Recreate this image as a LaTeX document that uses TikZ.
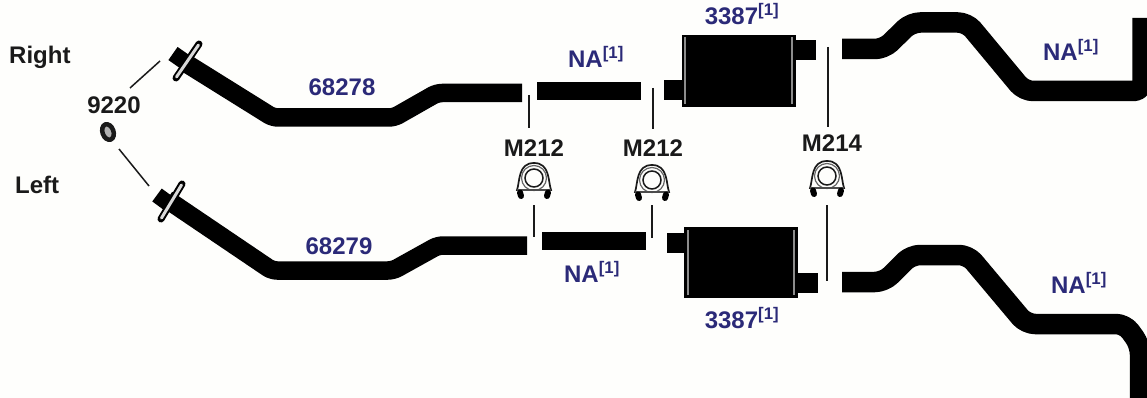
\documentclass[tikz,border=0pt]{standalone}
\usepackage{fontspec}
\setmainfont{Liberation Sans}
\definecolor{navy}{HTML}{2B2A78}
\definecolor{ink}{HTML}{1A1A1A}
\definecolor{paper}{HTML}{FEFEFC}
\newcommand{\refmark}{\textsuperscript{[1]}}
\tikzset{
  x=1pt,y=-1pt,
  pipe/.style={line width=18.5pt,black,line join=round,rounded corners=5pt},
  tailpipe/.style={line width=20.5pt,black,line join=round,rounded corners=9pt},
  shortpipe/.style={line width=18pt,black},
  leader/.style={line width=1.5pt,ink},
  part/.style={font=\fontsize{24}{24}\selectfont\bfseries,text=navy,inner sep=0pt},
  clampname/.style={font=\fontsize{24}{24}\selectfont\bfseries,text=ink,inner sep=0pt},
  side/.style={font=\fontsize{24}{24}\selectfont\bfseries,text=ink,inner sep=0pt},
  mufflerbody/.style={fill=black,draw=none},
  seam/.style={line width=1.1pt,black!45},
  flange/.style={line width=7pt,black,line cap=round},
  flangeface/.style={line width=3pt,black!15,line cap=round},
  stub/.style={line width=16pt,black},
  clamparch/.style={line width=1.7pt,ink,fill=paper},
  clampfoot/.style={line width=6pt,black,line cap=round},
  pics/uclamp/.style={code={
    \draw[clamparch] (-17,12) .. controls (-14,3) and (-16,-15) .. (0,-15) .. controls (16,-15) and (14,3) .. (17,12) -- cycle;
    \draw[line width=1.2pt,black!60] (0,0) circle[radius=12.5];
    \draw[line width=1.5pt,ink,fill=paper] (0,0) circle[radius=9];
    \draw[line width=2.6pt,black!70] (-17,12) -- (17,12);
    \draw[clampfoot] (-14,14.5) -- (-13,18);
    \draw[clampfoot] (14,14.5) -- (13,18);
  }}
}
\begin{document}
\begin{tikzpicture}
\useasboundingbox (0,0) rectangle (1147,398);
\fill[paper] (0,0) rectangle (1147,398);

% upper front pipe
\draw[pipe] (184,62) -- (273,117.5) -- (394,117.5) -- (437,93) -- (522,93);
\draw[stub] (173,53.5) -- (188,64);
\draw[flange] (199,44) -- (176,78);
\draw[flangeface] (198.5,45) -- (176.5,77);
% lower front pipe
\draw[pipe] (167,199.5) -- (272,270.5) -- (393,270.5) -- (438,245.5) -- (527,245.5);
\draw[stub] (157,195) -- (172,206);
\draw[flange] (182,184) -- (161,219);
\draw[flangeface] (181.5,185) -- (161.5,218);

% intermediate pipes
\draw[shortpipe] (537,91) -- (641,91);
\draw[shortpipe] (542,241) -- (646,241);

% upper muffler
\fill[mufflerbody] (664,80) rectangle (684,100);
\fill[mufflerbody] (794,40) rectangle (816,60);
\fill[mufflerbody] (682,35) rectangle (796,107);
\draw[seam] (685,37) -- (685,104);
\draw[seam] (792,37) -- (792,104);
% lower muffler
\fill[mufflerbody] (667,233) rectangle (686,253);
\fill[mufflerbody] (796,273) rectangle (818,293);
\fill[mufflerbody] (684,227) rectangle (798,298);
\draw[seam] (688,230) -- (688,295);
\draw[seam] (794,230) -- (794,295);

% tail pipes
\draw[tailpipe] (842,49) -- (884,49) -- (911,22.5) -- (967,22.5) -- (1024,91) -- (1142.5,91) -- (1142.5,18);
\draw[tailpipe] (842,282) -- (884,282) -- (911,255) -- (968,255) -- (1026,324) -- (1125,324) -- (1140,345) -- (1140,398);

% ring gasket
\draw[line width=4.5pt,ink,fill=black!30,rotate around={20:(108,132)}] (108,132) ellipse[x radius=5.5,y radius=8];

% clamps
\pic at (534,178) {uclamp};
\pic at (652,180) {uclamp};
\pic at (827,176) {uclamp};

% labels
\node[side,anchor=west] (right) at (9,57) {Right};
\node[side,anchor=west] (left) at (15,185) {Left};
\node[clampname] (gasket) at (114,105) {9220};
\node[clampname] (m1) at (534,148) {M212};
\node[clampname] (m2) at (653,148) {M212};
\node[clampname] (m3) at (832,143) {M214};
\node[part] (p1) at (342,87) {68278};
\node[part] (p2) at (339,246) {68279};
\node[part] (na1) at (596,57) {NA\refmark};
\node[part] (na2) at (592,272) {NA\refmark};
\node[part] (m4) at (742,14) {3387\refmark};
\node[part] (m5) at (742,318) {3387\refmark};
\node[part] (na3) at (1071,50) {NA\refmark};
\node[part] (na4) at (1079,283) {NA\refmark};

% leaders
\coordinate (g1a) at (130,88); \coordinate (g1b) at (160,61);
\coordinate (g2a) at (119,149); \coordinate (g2b) at (149,186);
\draw[leader] (g1a) -- (g1b);
\draw[leader] (g2a) -- (g2b);
\coordinate (a1) at (529,95); \coordinate (a2) at (529,128);
\coordinate (b1) at (534,205); \coordinate (b2) at (534,237);
\coordinate (c1) at (653,88); \coordinate (c2) at (653,129);
\coordinate (d1) at (652,205); \coordinate (d2) at (652,238);
\coordinate (e1) at (828,47); \coordinate (e2) at (828,127);
\coordinate (f1) at (827,205); \coordinate (f2) at (827,281);
\draw[leader] (a1) -- (a2);
\draw[leader] (b1) -- (b2);
\draw[leader] (c1) -- (c2);
\draw[leader] (d1) -- (d2);
\draw[leader] (e1) -- (e2);
\draw[leader] (f1) -- (f2);
\end{tikzpicture}
\end{document}
